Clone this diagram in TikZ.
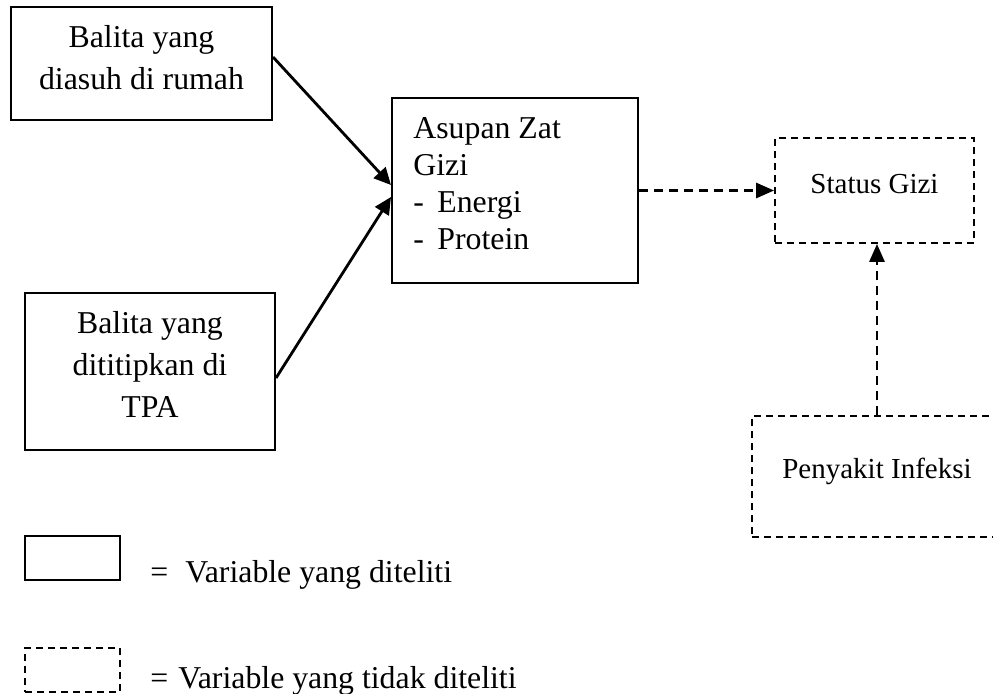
\documentclass[tikz,border=0pt]{standalone}
\usepackage{fontspec}
\setmainfont{Liberation Serif}
\usetikzlibrary{arrows.meta,calc}
\begin{document}
\begin{tikzpicture}[x=0.5pt,y=-0.5pt,
  solidbox/.style={draw, line width=1pt, inner sep=0pt},
  dashbox/.style={draw, line width=0.9pt, dash pattern=on 3.5pt off 2.5pt, inner sep=0pt},
  arr/.style={line width=1.4pt, -{Triangle[length=8.5pt,width=8pt]}},
  darr/.style={line width=1.4pt, dash pattern=on 4.5pt off 3pt, -{Triangle[length=9pt,width=7.5pt]}},
  bigtxt/.style={font=\fontsize{15.9pt}{21pt}\selectfont, inner sep=0pt},
  smalltxt/.style={font=\fontsize{14.5pt}{18pt}\selectfont, inner sep=0pt}]
\useasboundingbox (0,0) rectangle (993,693);
\clip (0,0) rectangle (993,693);
% boxes
\node[solidbox, minimum width=130.5pt, minimum height=56.5pt] (rumah) at (141.5,63.5) {};
\node[solidbox, minimum width=125pt, minimum height=78.5pt] (tpa) at (150,371.5) {};
\node[solidbox, minimum width=123pt, minimum height=92.5pt] (asupan) at (515,190.5) {};
\node[dashbox, minimum width=99.5pt, minimum height=52.5pt] (status) at (874.5,190.5) {};
\node[dashbox, minimum width=125pt, minimum height=60.5pt] (penyakit) at (877,476.5) {};
\node[solidbox, minimum width=47.5pt, minimum height=22pt] (legA) at (72.5,558) {};
\node[dashbox, minimum width=47.5pt, minimum height=22pt] (legB) at (72.5,670) {};
% texts (base anchor = last line's baseline)
\node[bigtxt, align=center, anchor=base] (t1) at (141.5,89) {Balita yang\\diasuh di rumah};
\node[bigtxt, align=center, anchor=base] (t2) at (150,417) {Balita yang\\dititipkan di\\TPA};
\node[font=\fontsize{15.9pt}{18.5pt}\selectfont, inner sep=0pt, align=left, anchor=base west] (t3) at (413,249)
  {Asupan Zat\\Gizi\\\makebox[12pt][l]{-}Energi\\\makebox[12pt][l]{-}Protein};
\node[smalltxt, anchor=base] (t4) at (874.5,193) {Status Gizi};
\node[smalltxt, anchor=base] (t5) at (877,478) {Penyakit Infeksi};
\node[bigtxt, anchor=base west] (t6) at (150,582) {\makebox[17.5pt][l]{=}Variable yang diteliti};
\node[bigtxt, anchor=base west] (t7) at (150,688) {\makebox[14pt][l]{=}Variable yang tidak diteliti};
% connectors
\draw[arr] ([yshift=3.25pt]rumah.east) -- ([yshift=2.75pt]asupan.west);
\draw[arr] ([yshift=-3.25pt]tpa.east) -- ([yshift=-3.25pt]asupan.west);
\draw[darr] (asupan.east) -- (status.west);
\draw[darr] (penyakit.north) -- (penyakit.north |- status.south);
\end{tikzpicture}
\end{document}
